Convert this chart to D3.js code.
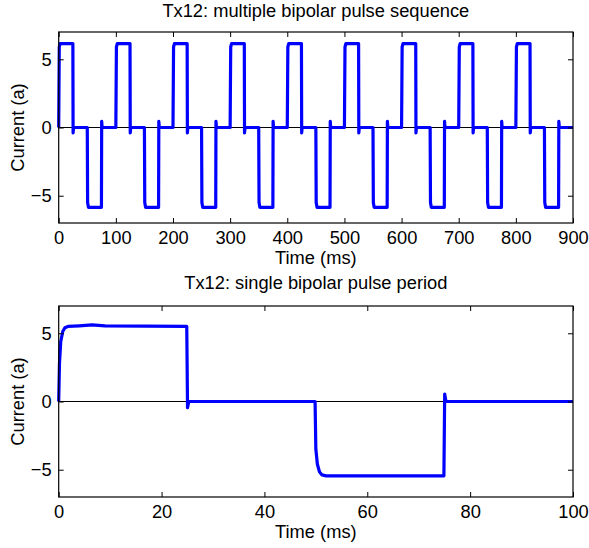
<!DOCTYPE html>
<html>
<head>
<meta charset="utf-8">
<script src="https://cdn.jsdelivr.net/npm/d3@7"></script>
<style>
	body { margin: 0; background: #fff; }
	svg { display: block; }
	text { font-family: "Liberation Sans", Arial, sans-serif; font-size: 18.3px; fill: #000; }
</style>
</head>
<body>
<svg id="chart" width="589" height="548"></svg>
<script>
// measured current, [time (ms), current (a)]
var seqPoints = [
	[0, 0], [1, 5.9], [2.5, 6.15], [24.8, 6.15], [25.2, -0.4], [26, 0], [50, 0], [50.6, -5.5], [52, -5.85], [74.8, -5.85], [75.2, 0.45], [76, 0],
	[100, 0], [101, 5.9], [102.5, 6.15], [124.8, 6.15], [125.2, -0.4], [126, 0], [150, 0], [150.6, -5.5], [152, -5.85], [174.8, -5.85], [175.2, 0.45], [176, 0],
	[200, 0], [201, 5.9], [202.5, 6.15], [224.8, 6.15], [225.2, -0.4], [226, 0], [250, 0], [250.6, -5.5], [252, -5.85], [274.8, -5.85], [275.2, 0.45], [276, 0],
	[300, 0], [301, 5.9], [302.5, 6.15], [324.8, 6.15], [325.2, -0.4], [326, 0], [350, 0], [350.6, -5.5], [352, -5.85], [374.8, -5.85], [375.2, 0.45], [376, 0],
	[400, 0], [401, 5.9], [402.5, 6.15], [424.8, 6.15], [425.2, -0.4], [426, 0], [450, 0], [450.6, -5.5], [452, -5.85], [474.8, -5.85], [475.2, 0.45], [476, 0],
	[500, 0], [501, 5.9], [502.5, 6.15], [524.8, 6.15], [525.2, -0.4], [526, 0], [550, 0], [550.6, -5.5], [552, -5.85], [574.8, -5.85], [575.2, 0.45], [576, 0],
	[600, 0], [601, 5.9], [602.5, 6.15], [624.8, 6.15], [625.2, -0.4], [626, 0], [650, 0], [650.6, -5.5], [652, -5.85], [674.8, -5.85], [675.2, 0.45], [676, 0],
	[700, 0], [701, 5.9], [702.5, 6.15], [724.8, 6.15], [725.2, -0.4], [726, 0], [750, 0], [750.6, -5.5], [752, -5.85], [774.8, -5.85], [775.2, 0.45], [776, 0],
	[800, 0], [801, 5.9], [802.5, 6.15], [824.8, 6.15], [825.2, -0.4], [826, 0], [850, 0], [850.6, -5.5], [852, -5.85], [874.8, -5.85], [875.2, 0.45], [876, 0],
	[900, 0]
];

var periodPoints = [
	[0, 0], [0.15, 2.8], [0.4, 4.4], [0.8, 5.15], [1.2, 5.4], [1.8, 5.5], [4, 5.55], [6.5, 5.62],
	[9, 5.55], [24.9, 5.5], [25.05, -0.45], [25.3, 0], [49.85, 0], [50, -3.5], [50.3, -4.6],
	[50.7, -5.15], [51.2, -5.38], [52, -5.45], [74.9, -5.45], [75.05, 0.55], [75.3, 0], [100, 0]
];

var seqTicks = [0, 100, 200, 300, 400, 500, 600, 700, 800, 900];
var periodTicks = [0, 20, 40, 60, 80, 100];
var currentTicks = [-5, 0, 5];

var titles = ["Tx12: multiple bipolar pulse sequence", "Tx12: single bipolar pulse period"];
var xLabel = "Time (ms)";
var yLabel = "Current (a)";

var svg = d3.select("#chart");

function panel(top, xDomain, xTicks, points, title) {
	var left = 58.7,
		right = 573,
		bottom = top + 191,
		tick = 5;

	var x = d3.scaleLinear().domain(xDomain).range([left, right]);
	var y = d3.scaleLinear().domain([-7, 7]).range([bottom, top]);

	var g = svg.append("g");

	// zero line
	g.append("line")
		.attr("x1", left).attr("x2", right)
		.attr("y1", y(0)).attr("y2", y(0))
		.attr("stroke", "#000")
		.attr("stroke-width", 1);

	g.append("path")
		.datum(points)
		.attr("fill", "none")
		.attr("stroke", "#0000ff")
		.attr("stroke-width", 3.2)
		.attr("stroke-linejoin", "round")
		.attr("d", d3.line().x(function(d){return x(d[0]);}).y(function(d){return y(d[1]);}));

	// matlab style ticks: inward, all four sides
	g.append("g")
		.attr("transform", "translate(0," + bottom + ")")
		.call(d3.axisBottom(x).tickValues(xTicks).tickSize(-tick).tickPadding(8).tickFormat(d3.format("d")));
	g.append("g")
		.attr("transform", "translate(0," + top + ")")
		.call(d3.axisTop(x).tickValues(xTicks).tickSize(-tick).tickFormat(""));
	g.append("g")
		.attr("transform", "translate(" + left + ",0)")
		.call(d3.axisLeft(y).tickValues(currentTicks).tickSize(-tick).tickPadding(7).tickFormat(d3.format("d")));
	g.append("g")
		.attr("transform", "translate(" + right + ",0)")
		.call(d3.axisRight(y).tickValues(currentTicks).tickSize(-tick).tickFormat(""));

	g.selectAll(".domain").remove();
	g.selectAll(".tick line").attr("stroke", "#000");
	g.selectAll(".tick text")
		.style("font-family", "\"Liberation Sans\", Arial, sans-serif")
		.style("font-size", "18.3px")
		.attr("fill", "#000");

	g.append("rect")
		.attr("x", left).attr("y", top)
		.attr("width", right - left).attr("height", bottom - top)
		.attr("fill", "none")
		.attr("stroke", "#000")
		.attr("stroke-width", 1.2);

	g.append("text")
		.attr("x", (left + right) / 2)
		.attr("y", Math.max(top - 17, 17))
		.attr("text-anchor", "middle")
		.text(title);

	g.append("text")
		.attr("x", (left + right) / 2)
		.attr("y", bottom + 41)
		.attr("text-anchor", "middle")
		.text(xLabel);

	g.append("text")
		.attr("transform", "translate(24," + (top + bottom) / 2 + ") rotate(-90)")
		.attr("text-anchor", "middle")
		.text(yLabel);
}

panel(32, [0, 900], seqTicks, seqPoints, titles[0]);
panel(306, [0, 100], periodTicks, periodPoints, titles[1]);
</script>
</body>
</html>
